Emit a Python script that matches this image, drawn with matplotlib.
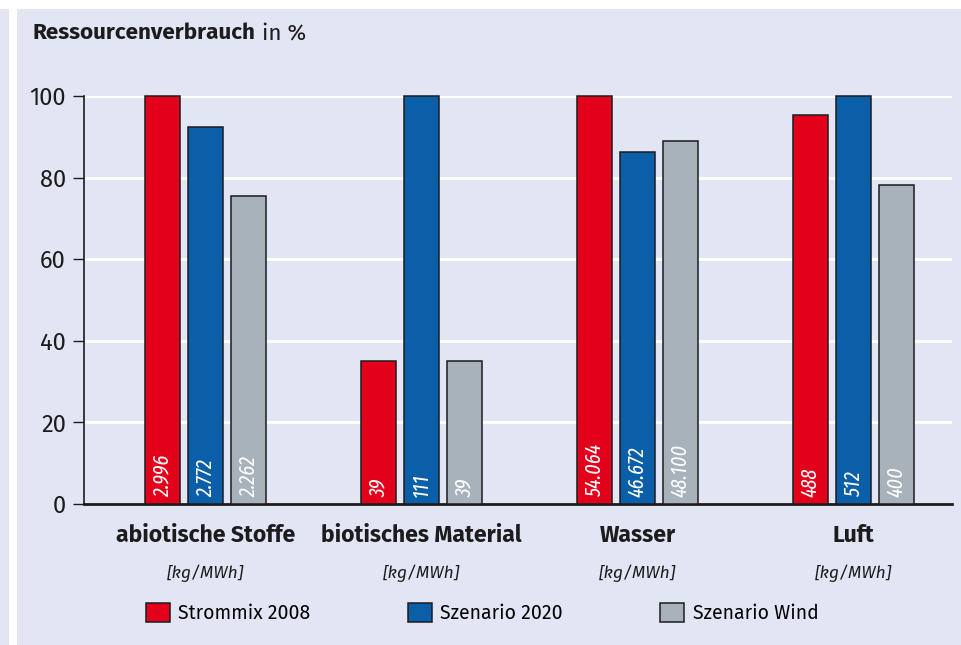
import matplotlib
matplotlib.use("Agg")
import matplotlib.pyplot as plt
from matplotlib.patches import Rectangle, Patch
import matplotlib.transforms as mtransforms
import numpy as np

# ---- data ----
categories = ["abiotische Stoffe", "biotisches Material", "Wasser", "Luft"]
unit_label = "[kg/MWh]"
series_names = ["Strommix 2008", "Szenario 2020", "Szenario Wind"]
strommix_2008 = [100, 35.1, 100, 95.3]
szenario_2020 = [92.5, 100, 86.3, 100]
szenario_wind = [75.5, 35.1, 89.0, 78.1]
labels_2008 = ["2.996", "39", "54.064", "488"]
labels_2020 = ["2.772", "111", "46.672", "512"]
labels_wind = ["2.262", "39", "48.100", "400"]
yticks = [0, 20, 40, 60, 80, 100]
title_bold = "Ressourcenverbrauch"
title_rest = " in %"

colors = ["#e2001a", "#0b5ea8", "#a8b2bb"]
panel = "#e2e6f4"
dark = "#1c1c1c"
sans = ["Fira Sans", "PT Sans", "DejaVu Sans"]
xcond = ["Fira Sans Extra Condensed", "Fira Sans Condensed", "DejaVu Sans"]

W, H = 962, 645
fig = plt.figure(figsize=(W / 100, H / 100), dpi=100)
fig.patch.set_facecolor("white")

# background panels
fig.add_artist(Rectangle((17 / W, 0), 1 - 17 / W, 1 - 9 / H, transform=fig.transFigure,
                         facecolor=panel, edgecolor="none", zorder=-10))
fig.add_artist(Rectangle((0, 0), 9 / W, 1 - 9 / H, transform=fig.transFigure,
                         facecolor=panel, edgecolor="none", zorder=-10))

# axes placement (pixel-based)
x0, x1 = 84, 952
y0, y1 = 504, 96
ax = fig.add_axes([x0 / W, (H - y0) / H, (x1 - x0) / W, (y0 - y1) / H])
ax.set_facecolor("none")

spacing_px = 216.0
center0_px = 205.5
xmin = -(center0_px - x0) / spacing_px
xmax = xmin + (x1 - x0) / spacing_px
ax.set_xlim(xmin, xmax)
ax.set_ylim(0, 100)

x = np.arange(len(categories))
bw = 34.5 / spacing_px
off = 43.0 / spacing_px

for yv in yticks[1:]:
    ax.axhline(yv, color="white", lw=2.2, zorder=0)

all_series = [strommix_2008, szenario_2020, szenario_wind]
all_labels = [labels_2008, labels_2020, labels_wind]
for i, (vals, labs) in enumerate(zip(all_series, all_labels)):
    xs = x + (i - 1) * off
    ax.bar(xs, vals, width=bw, color=colors[i], edgecolor=dark, linewidth=1.1,
           zorder=3, clip_on=False)
    for xi, lab in zip(xs, labs):
        ax.text(xi, 1.6, lab, rotation=90, ha="center", va="bottom", color="white",
                fontsize=15.5, style="italic", family=xcond, zorder=4)

# spines and ticks
for s in ["top", "right"]:
    ax.spines[s].set_visible(False)
ax.spines["left"].set_linewidth(1.2)
ax.spines["left"].set_color(dark)
ax.spines["bottom"].set_linewidth(2.0)
ax.spines["bottom"].set_color(dark)
ax.set_yticks(yticks)
ax.set_yticklabels([str(v) for v in yticks], family=sans, fontsize=17, color=dark)
ax.tick_params(axis="y", direction="out", length=8, width=1.0, pad=5, color=dark)
ax.set_xticks([])

# category labels
trans = mtransforms.blended_transform_factory(ax.transData, fig.transFigure)
for xi, cat in zip(x, categories):
    ax.text(xi, 1 - 535 / H, cat, transform=trans, ha="center", va="center",
            fontsize=16.5, fontweight="bold", family=sans, color=dark)
    ax.text(xi, 1 - 573 / H, unit_label, transform=trans, ha="center", va="center",
            fontsize=12.5, style="italic", family=sans, color=dark)

# title
t1 = fig.text(33 / W, 1 - 33 / H, title_bold, ha="left", va="center", fontsize=16.2,
              fontweight="bold", family=sans, color=dark)
fig.canvas.draw()
bb = t1.get_window_extent()
fig.text(bb.x1 / W, 1 - 33 / H, title_rest, ha="left", va="center", fontsize=16.2,
         family=sans, color=dark)

# legend
handles = [Patch(facecolor=c, edgecolor=dark, linewidth=1.1) for c in colors]
leg = fig.legend(handles, series_names, loc="center left",
                 bbox_to_anchor=(146 / W, 1 - 613 / H), ncol=3, frameon=False,
                 borderpad=0, borderaxespad=0,
                 prop={"family": sans, "size": 14}, handlelength=1.24, handleheight=1.13,
                 handletextpad=0.43, columnspacing=5.0)

fig.savefig("out.png", dpi=100, facecolor=fig.get_facecolor())
